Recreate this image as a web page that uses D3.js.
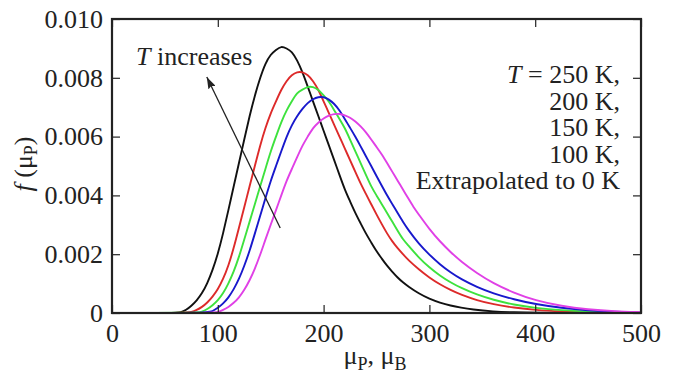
<!DOCTYPE html>
<html><head><meta charset="utf-8">
<script src="https://cdn.jsdelivr.net/npm/d3@7"></script>
<style>
body{margin:0;background:#fff}
svg{display:block}
text{font-family:"Liberation Serif","Times New Roman",serif;fill:#222}
</style>
</head><body>
<svg id="c" width="673" height="377"></svg>
<script>
// ---- data ----
const xTicks = [0, 100, 200, 300, 400, 500];
const xTickLabels = ["0", "100", "200", "300", "400", "500"];
const yTicks = [0, 0.002, 0.004, 0.006, 0.008, 0.010];
const yTickLabels = ["0", "0.002", "0.004", "0.006", "0.008", "0.010"];
const legendLines = ["T = 250 K,", "200 K,", "150 K,", "100 K,", "Extrapolated to 0 K"];
const seriesColors = ["#111111", "#dd2a2a", "#3de23d", "#1818cc", "#e040e6"];

const curve250K = [[0,0],[60,0],[65,0.00002],[70,0.0001],[75,0.00024],[80,0.00042],[85,0.00066],[90,0.001],[95,0.00145],[100,0.002],[105,0.0027],[110,0.0035],[115,0.0043],[120,0.0051],[125,0.0059],[130,0.0067],[135,0.0074],[140,0.008],[145,0.0085],[150,0.0088],[155,0.00895],[160,0.00908],[165,0.009],[170,0.0089],[175,0.0086],[180,0.0082],[185,0.0077],[190,0.0072],[195,0.0067],[200,0.0062],[205,0.0057],[210,0.0052],[215,0.0047],[220,0.0042],[225,0.0038],[230,0.0034],[235,0.00305],[240,0.0027],[245,0.0024],[250,0.0021],[255,0.00185],[260,0.0016],[265,0.0014],[270,0.0012],[275,0.00104],[280,0.0009],[290,0.00066],[300,0.00048],[310,0.00035],[320,0.00025],[330,0.00018],[340,0.00012],[360,0.00005],[380,0.00002],[400,0.00001],[450,0],[500,0]];
const curve200K = [[0,0],[70,0],[75,0.00003],[80,0.0001],[85,0.0002],[90,0.00035],[95,0.00055],[100,0.0008],[105,0.00115],[110,0.0016],[115,0.0022],[120,0.0029],[125,0.0036],[130,0.0043],[135,0.005],[140,0.0057],[145,0.0063],[150,0.0068],[155,0.0072],[160,0.0076],[165,0.0079],[170,0.0081],[175,0.0082],[180,0.0082],[185,0.0081],[190,0.0079],[195,0.0076],[200,0.0072],[205,0.0068],[210,0.0064],[215,0.006],[220,0.0056],[225,0.0052],[230,0.0048],[235,0.0044],[240,0.00405],[245,0.0037],[250,0.00335],[255,0.00302],[260,0.0027],[265,0.00243],[270,0.0022],[275,0.002],[280,0.0018],[290,0.00148],[300,0.0012],[310,0.00097],[320,0.00078],[330,0.00062],[345,0.00043],[360,0.0003],[380,0.00018],[400,0.0001],[425,0.00005],[450,0.00002],[475,0.00001],[500,0]];
const curve150K = [[0,0],[80,0],[85,0.00004],[90,0.00013],[95,0.00026],[100,0.00043],[105,0.00066],[110,0.001],[115,0.0014],[120,0.0019],[125,0.0025],[130,0.0031],[135,0.0037],[140,0.0043],[145,0.0049],[150,0.0055],[155,0.006],[160,0.0065],[165,0.0069],[170,0.0072],[175,0.0075],[180,0.0076],[185,0.0077],[190,0.0077],[195,0.0076],[200,0.0074],[205,0.0072],[210,0.0069],[215,0.0066],[220,0.0063],[225,0.0059],[230,0.0055],[235,0.0051],[240,0.0047],[245,0.0043],[250,0.004],[255,0.0037],[260,0.0034],[265,0.0031],[270,0.0028],[275,0.0025],[280,0.0023],[290,0.00188],[300,0.00155],[310,0.00127],[320,0.00104],[330,0.00085],[345,0.00062],[360,0.00045],[380,0.00028],[400,0.00017],[425,0.00009],[450,0.00005],[475,0.00002],[500,0.00001]];
const curve100K = [[0,0],[90,0],[95,0.00006],[100,0.00017],[105,0.00032],[110,0.00052],[115,0.0008],[120,0.00115],[125,0.0016],[130,0.0021],[135,0.0027],[140,0.0033],[145,0.0039],[150,0.0045],[155,0.005],[160,0.0055],[165,0.006],[170,0.0064],[175,0.0067],[180,0.00695],[185,0.00715],[190,0.00728],[195,0.00735],[200,0.00735],[205,0.00727],[210,0.00712],[215,0.0069],[220,0.0066],[225,0.0063],[230,0.006],[235,0.00567],[240,0.00533],[245,0.005],[250,0.00466],[255,0.00433],[260,0.004],[265,0.0037],[270,0.0034],[275,0.0031],[280,0.00283],[290,0.00235],[300,0.00198],[310,0.00165],[320,0.00138],[330,0.00115],[345,0.00088],[360,0.00067],[380,0.00046],[400,0.0003],[425,0.00017],[450,0.00009],[475,0.00004],[500,0.00001]];
const curve0K = [[0,0],[95,0],[100,0.00003],[105,0.0001],[110,0.0002],[115,0.00034],[120,0.00052],[125,0.00078],[130,0.0011],[135,0.0015],[140,0.00197],[145,0.0025],[150,0.003],[155,0.0035],[160,0.004],[165,0.0045],[170,0.0049],[175,0.0053],[180,0.0057],[185,0.006],[190,0.0063],[195,0.00648],[200,0.00662],[205,0.00672],[210,0.00677],[215,0.00678],[220,0.00673],[225,0.00665],[230,0.00652],[235,0.00635],[240,0.00615],[245,0.0059],[250,0.00565],[255,0.0054],[260,0.0051],[265,0.0048],[270,0.0045],[275,0.0042],[280,0.0039],[285,0.0036],[290,0.00335],[300,0.00285],[310,0.00243],[320,0.00207],[330,0.00175],[345,0.00135],[360,0.00102],[380,0.00068],[400,0.00043],[425,0.00023],[450,0.00012],[475,0.00006],[500,0.00003]];
const seriesList = [curve250K, curve200K, curve150K, curve100K, curve0K];

// arrow (data coords): tail -> head
const arrowTail = [159, 0.00289];
const arrowHead = [89.6, 0.00803];

// ---- layout ----
const W = 673, H = 377;
const m = {l:112, r:32, t:19, b:64};
const svg = d3.select("#c");
const x = d3.scaleLinear().domain([0,500]).range([m.l, W-m.r]);
const y = d3.scaleLinear().domain([0,0.010]).range([H-m.b, m.t]);

const fs = 26;
const ink = "#222";

// curves
const line = d3.line().x(d=>x(d[0])).y(d=>y(d[1])).curve(d3.curveBasis);
svg.append("g").selectAll("path").data(seriesList).join("path")
  .attr("d", line).attr("fill","none")
  .attr("stroke",(d,i)=>seriesColors[i]).attr("stroke-width",1.9);

// axes with inward ticks
const tl = 8;
const axB = d3.axisBottom(x).tickValues(xTicks).tickFormat((d,i)=>xTickLabels[i]).tickSizeInner(-tl).tickSizeOuter(0).tickPadding(11);
const axT = d3.axisTop(x).tickValues(xTicks).tickFormat("").tickSizeInner(-tl).tickSizeOuter(0);
const axL = d3.axisLeft(y).tickValues(yTicks).tickFormat((d,i)=>yTickLabels[i]).tickSizeInner(-tl).tickSizeOuter(0).tickPadding(9);
const axR = d3.axisRight(y).tickValues(yTicks).tickFormat("").tickSizeInner(-tl).tickSizeOuter(0);

function style(g){
  g.select(".domain").remove();
  g.selectAll(".tick line").attr("stroke",ink).attr("stroke-width",1.2);
  g.selectAll(".tick text").attr("font-size",fs).attr("fill",ink);
}
svg.append("g").attr("transform",`translate(0,${H-m.b})`).call(axB).call(style);
svg.append("g").attr("transform",`translate(0,${m.t})`).call(axT).call(style);
svg.append("g").attr("transform",`translate(${m.l},0)`).call(axL).call(style);
svg.append("g").attr("transform",`translate(${W-m.r},0)`).call(axR).call(style);

// frame
svg.append("rect").attr("x",m.l).attr("y",m.t).attr("width",W-m.l-m.r).attr("height",H-m.t-m.b)
  .attr("fill","none").attr("stroke",ink).attr("stroke-width",2.2);

// arrow
const defs = svg.append("defs");
defs.append("marker").attr("id","ah").attr("viewBox","0 0 12 8").attr("refX",12).attr("refY",4)
  .attr("markerWidth",12).attr("markerHeight",8).attr("markerUnits","userSpaceOnUse").attr("orient","auto")
  .append("path").attr("d","M0,0 L12,4 L0,8 L2,4 Z").attr("fill",ink);
svg.append("line").attr("x1",x(arrowTail[0])).attr("y1",y(arrowTail[1]))
  .attr("x2",x(arrowHead[0])).attr("y2",y(arrowHead[1]))
  .attr("stroke",ink).attr("stroke-width",1.3).attr("marker-end","url(#ah)");

// "T increases"
const ti = svg.append("text").attr("x",136).attr("y",65).attr("font-size",fs);
ti.append("tspan").attr("font-style","italic").text("T");
ti.append("tspan").text(" increases");

// legend text
legendLines.forEach((s,i)=>{
  const t = svg.append("text").attr("x",620).attr("y",83+i*26.5).attr("font-size",fs).attr("text-anchor","end");
  if(i===0){
    t.append("tspan").attr("font-style","italic").text("T");
    t.append("tspan").text(s.slice(1));
  } else t.text(s);
});

// y title
const yt = svg.append("text").attr("transform","translate(32,164) rotate(-90)").attr("text-anchor","middle").attr("font-size",fs);
yt.append("tspan").attr("font-style","italic").text("f");
yt.append("tspan").text(" (μ");
yt.append("tspan").attr("font-size",18).attr("dy",5).text("P");
yt.append("tspan").attr("dy",-5).text(")");

// x title
const xt = svg.append("text").attr("x",375).attr("y",364).attr("text-anchor","middle").attr("font-size",fs);
xt.append("tspan").text("μ");
xt.append("tspan").attr("font-size",18).attr("dy",6).text("P");
xt.append("tspan").attr("dy",-6).text(", μ");
xt.append("tspan").attr("font-size",18).attr("dy",6).text("B");
</script>
</body></html>
